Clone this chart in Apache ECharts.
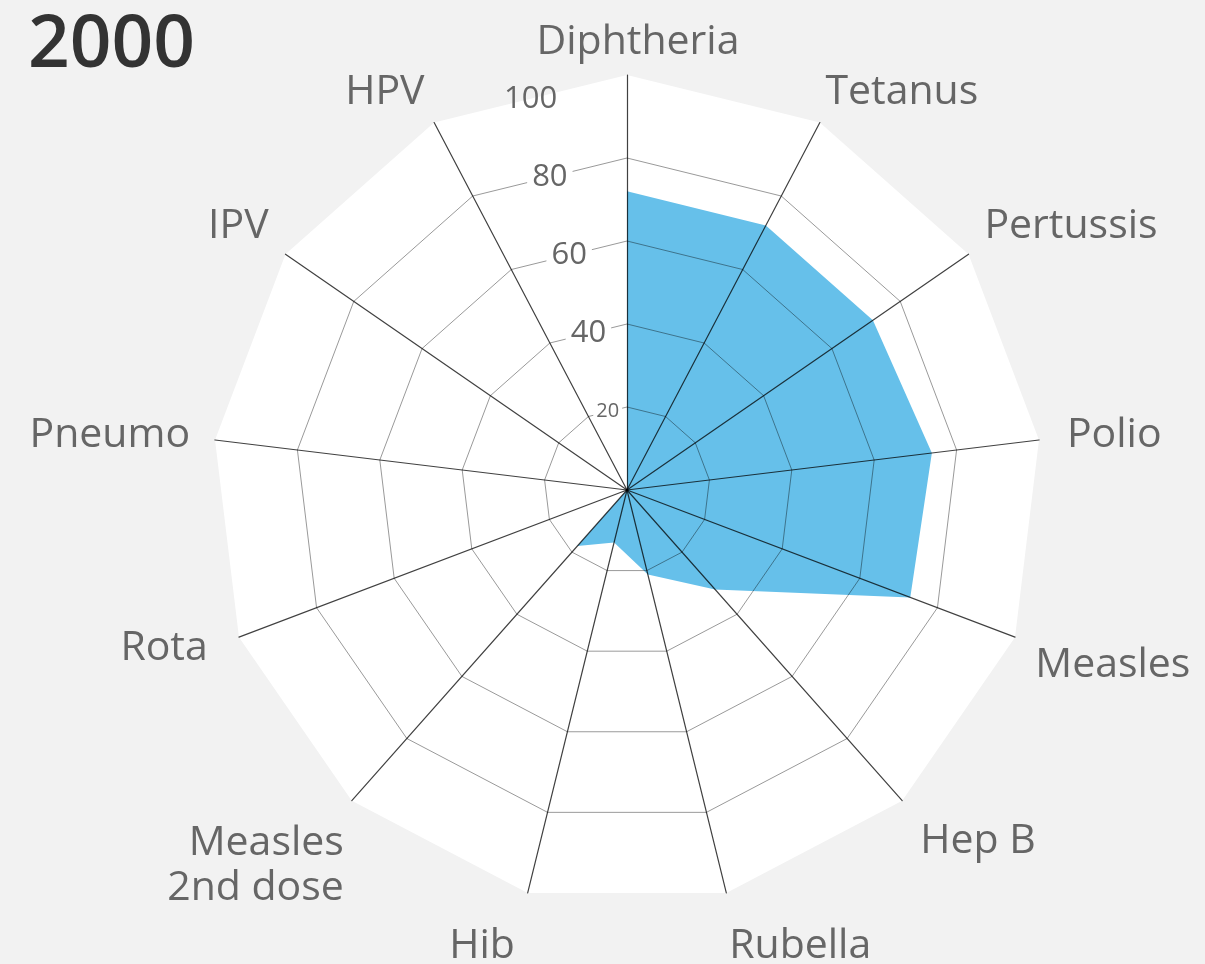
<!DOCTYPE html>
<html>
<head>
<meta charset="utf-8">
<title>2000</title>
<script src="https://cdn.jsdelivr.net/npm/echarts@6/dist/echarts.min.js"></script>
<style>
  html, body { margin: 0; padding: 0; background: #f2f2f2; }
  #chart { width: 1205px; height: 964px; }
</style>
</head>
<body>
<div id="chart"></div>
<script>
// vaccines, clockwise from the top
const vaccines = ['Diphtheria', 'Tetanus', 'Pertussis', 'Polio', 'Measles', 'Hep B', 'Rubella', 'Hib', 'Measles\n2nd dose', 'Rota', 'Pneumo', 'IPV', 'HPV'];
// coverage (%) in 2000
const coverage = [72, 72, 72, 74, 73, 32, 21, 13, 18, 0, 0, 0, 0];
const tickValues = [20, 40, 60, 80, 100];
const yearTitle = '2000';

const FONT = 'Open Sans';
const cx = 627, cy = 490, R = 415;
const n = vaccines.length;
const half = 180 / n;

// echarts radar runs counter-clockwise, so reverse everything after the first one
const order = [0];
for (let i = n - 1; i > 0; i--) order.push(i);

// small nudges for each name label (top, right, bottom, left)
const namePad = [
  [0, 0, 0, 22], [0, 0, 39, 0], [0, 0, 42, 6], [0, 0, 6, 16],
  [48, 0, 0, 9], [64, 0, 0, 10], [84, 0, 0, 0], [84, 10, 0, 0],
  null, [14, 20, 0, 0], [0, 13, 6, 0], [0, 7, 42, 0], [0, 4, 39, 0]
];
const nameRich = {};
namePad.forEach((p, i) => {
  if (p) nameRich['n' + i] = {fontFamily: FONT, fontSize: 41, color: '#666', padding: p};
});
nameRich.n8a = {fontFamily: FONT, fontSize: 41, color: '#666', padding: [116, 0, 0, 0]};
nameRich.n8b = {fontFamily: FONT, fontSize: 41, color: '#666', padding: [0, 0, 0, 0], lineHeight: 49};

const indicators = order.map(i => ({name: vaccines[i], min: 0, max: 100}));
const values = order.map(i => coverage[i]);

const radarBase = {
  center: [cx, cy],
  radius: R,
  startAngle: 90,
  shape: 'polygon',
  splitNumber: 5,
  indicator: indicators
};

const chart = echarts.init(document.getElementById('chart'));
chart.setOption({
  backgroundColor: '#f2f2f2',
  textStyle: {fontFamily: FONT},
  title: {
    text: yearTitle,
    left: 23,
    top: 5,
    textStyle: {fontFamily: FONT, fontSize: 73, fontWeight: 600, color: '#333'}
  },
  radar: [
    // white background underneath the fill
    Object.assign({}, radarBase, {
      axisName: {show: false},
      axisLine: {show: false},
      splitLine: {show: false},
      splitArea: {show: true, areaStyle: {color: ['#fff']}}
    }),
    // grid lines and names on top of the fill
    Object.assign({}, radarBase, {
      z: 5,
      nameGap: 12,
      axisName: {
        color: '#666',
        fontFamily: FONT,
        fontSize: 41,
        formatter: name => {
          const i = vaccines.indexOf(name);
          if (i === 8) return '{n8a|Measles}\n{n8b|2nd dose}';
          return '{n' + i + '|' + name + '}';
        },
        rich: nameRich
      },
      axisLine: {lineStyle: {color: 'rgba(0,0,0,0.75)', width: 1.2}},
      splitLine: {lineStyle: {color: ['rgba(0,0,0,0.4)', 'rgba(0,0,0,0.4)', 'rgba(0,0,0,0.4)', 'rgba(0,0,0,0.4)', 'rgba(0,0,0,0.4)', 'rgba(0,0,0,0)'], width: 1}},
      splitArea: {show: false}
    })
  ],
  // tick labels sit halfway between the first and last spoke
  polar: {center: [cx, cy], radius: R * Math.cos(half * Math.PI / 180)},
  angleAxis: {type: 'value', startAngle: 90 + half, show: false},
  radiusAxis: {
    type: 'value',
    min: 0,
    max: 100,
    interval: 20,
    z: 10,
    axisLine: {show: false},
    axisTick: {show: false},
    splitLine: {show: false},
    axisLabel: {
      margin: 0,
      align: 'center',
      verticalAlign: 'middle',
      formatter: v => {
        if (tickValues.indexOf(v) < 0) return '';
        if (v === 20) return '{s|20}';
        if (v === 100) return '{t|100}';
        return '{b|' + v + '}';
      },
      rich: {
        s: {fontFamily: FONT, fontSize: 20, color: '#666', backgroundColor: '#fff', padding: [0, 3]},
        b: {fontFamily: FONT, fontSize: 31, color: '#666', backgroundColor: '#fff', padding: [0, 5]},
        t: {fontFamily: FONT, fontSize: 31, color: '#666'}
      }
    }
  },
  series: [{
    type: 'radar',
    radarIndex: 0,
    symbol: 'none',
    lineStyle: {width: 0},
    areaStyle: {color: '#66c0ea', opacity: 1},
    data: [{value: values, name: yearTitle}]
  }]
});
</script>
</body>
</html>
